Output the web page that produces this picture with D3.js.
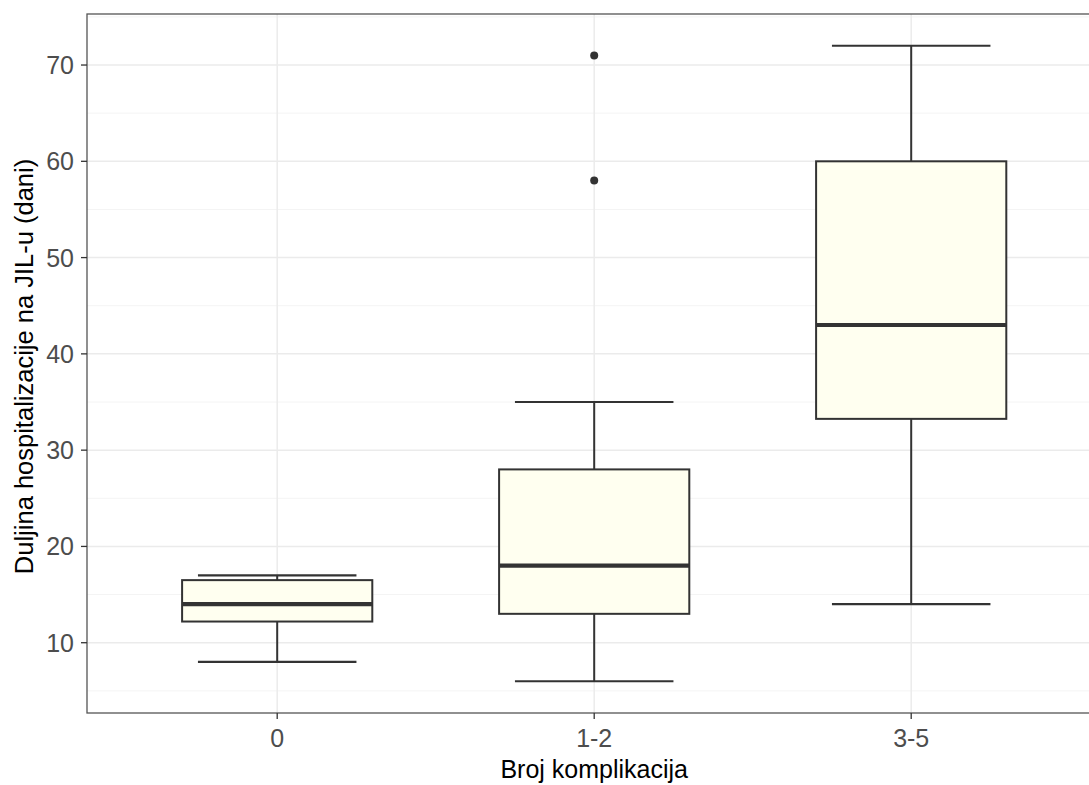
<!DOCTYPE html>
<html><head><meta charset="utf-8">
<script src="https://cdn.jsdelivr.net/npm/d3@7"></script>
<style>body{margin:0;background:#fff}svg{display:block}text{font-family:"Liberation Sans",Arial,sans-serif}</style>
</head><body><svg id="c" width="1089" height="785"></svg>
<script>
const categories = ["0", "1-2", "3-5"];
const lowerWhisker = [8, 6, 14];
const q1 = [12.2, 13, 33.25];
const medians = [14, 18, 43];
const q3 = [16.5, 28, 60];
const upperWhisker = [17, 35, 72];
const outliers = [[], [58, 71], []];
const yTicks = [10, 20, 30, 40, 50, 60, 70];
const yMinor = [5, 15, 25, 35, 45, 55, 65, 75];

const svg = d3.select("#c");
const L = 87, T = 14, B = 713;
const step = 317;
const R = L + 3.2 * step;
const x = d3.scalePoint().domain(categories).range([L + 0.6 * step, L + 2.6 * step]);
const cx = c => x(c);
const y = d3.scaleLinear().domain([6 - 3.3, 72 + 3.3]).range([B, T]);

svg.append("rect").attr("x", L).attr("y", T).attr("width", R - L).attr("height", B - T).attr("fill", "#fff");
svg.selectAll(".ym").data(yMinor).join("line").attr("x1", L).attr("x2", R)
  .attr("y1", d => y(d)).attr("y2", d => y(d)).attr("stroke", "#f4f4f4").attr("stroke-width", 1);
svg.selectAll(".yM").data(yTicks).join("line").attr("x1", L).attr("x2", R)
  .attr("y1", d => y(d)).attr("y2", d => y(d)).attr("stroke", "#ebebeb").attr("stroke-width", 1.5);
svg.selectAll(".xM").data(categories).join("line").attr("y1", T).attr("y2", B)
  .attr("x1", d => cx(d)).attr("x2", d => cx(d)).attr("stroke", "#ebebeb").attr("stroke-width", 1.5);

const boxW = 0.6 * step, capW = 0.5 * step;
const g = svg.append("g");
categories.forEach((c, i) => {
  const xc = cx(c);
  const col = "#333333";
  g.append("line").attr("x1", xc).attr("x2", xc).attr("y1", y(q3[i])).attr("y2", y(upperWhisker[i])).attr("stroke", col).attr("stroke-width", 2);
  g.append("line").attr("x1", xc).attr("x2", xc).attr("y1", y(q1[i])).attr("y2", y(lowerWhisker[i])).attr("stroke", col).attr("stroke-width", 2);
  [upperWhisker[i], lowerWhisker[i]].forEach(v => {
    g.append("line").attr("x1", xc - capW / 2).attr("x2", xc + capW / 2).attr("y1", y(v)).attr("y2", y(v)).attr("stroke", col).attr("stroke-width", 2.2);
  });
  g.append("rect").attr("x", xc - boxW / 2).attr("width", boxW).attr("y", y(q3[i])).attr("height", y(q1[i]) - y(q3[i]))
    .attr("fill", "#fffff0").attr("stroke", col).attr("stroke-width", 2);
  g.append("line").attr("x1", xc - boxW / 2).attr("x2", xc + boxW / 2).attr("y1", y(medians[i])).attr("y2", y(medians[i])).attr("stroke", col).attr("stroke-width", 4.2);
  outliers[i].forEach(v => {
    g.append("circle").attr("cx", xc).attr("cy", y(v)).attr("r", 4).attr("fill", col);
  });
});

svg.append("rect").attr("x", L).attr("y", T).attr("width", R - L).attr("height", B - T).attr("fill", "none").attr("stroke", "#555").attr("stroke-width", 1.3);

svg.selectAll(".yt").data(yTicks).join("line").attr("x1", L - 6).attr("x2", L).attr("y1", d => y(d)).attr("y2", d => y(d)).attr("stroke", "#333").attr("stroke-width", 1.3);
svg.selectAll(".yl").data(yTicks).join("text").attr("x", L - 13).attr("y", d => y(d)).attr("dy", "0.36em")
  .attr("text-anchor", "end").attr("font-size", 25).attr("fill", "#4d4d4d").text(d => d);
svg.selectAll(".xt").data(categories).join("line").attr("x1", d => cx(d)).attr("x2", d => cx(d)).attr("y1", B).attr("y2", B + 6).attr("stroke", "#333").attr("stroke-width", 1.3);
svg.selectAll(".xl").data(categories).join("text").attr("x", d => cx(d)).attr("y", 747)
  .attr("text-anchor", "middle").attr("font-size", 25).attr("fill", "#4d4d4d").text(d => d);

svg.append("text").attr("x", (L + R) / 2).attr("y", 778).attr("text-anchor", "middle").attr("font-size", 25).attr("fill", "#000").text("Broj komplikacija");
svg.append("text").attr("transform", `translate(33,${(T + B) / 2 + 3}) rotate(-90)`).attr("text-anchor", "middle").attr("font-size", 25.5).attr("fill", "#000").text("Duljina hospitalizacije na JIL-u (dani)");
</script></body></html>
